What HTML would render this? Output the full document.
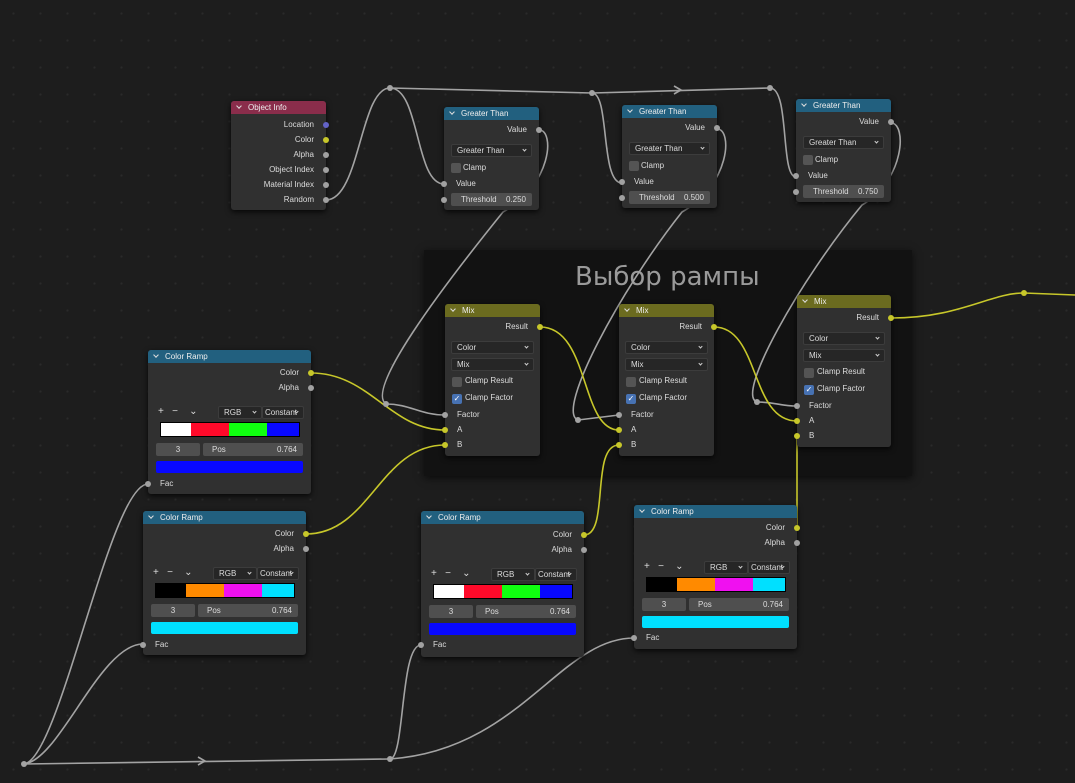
<!DOCTYPE html>
<html><head><meta charset="utf-8"><style>
body{margin:0;width:1075px;height:783px;background:#1d1d1d;overflow:hidden;position:relative;font-family:"Liberation Sans",sans-serif;}
.bg{position:absolute;left:0;top:0;width:1075px;height:783px;background-image:radial-gradient(circle,#2a2a2a 1px,transparent 1.2px);background-size:27px 27px;}
.frame{position:absolute;left:424px;top:250px;width:488px;height:226px;background:#121212;box-shadow:0 2px 8px #000a;}
.ftitle{position:absolute;left:575px;top:262px;font-size:26px;color:#9a9a9a;font-family:"DejaVu Sans",sans-serif;}
.n{position:absolute;background:#303030;border-radius:3px;box-shadow:0 2px 6px #000c;font-size:8px;color:#dcdcdc;}
.h{height:13px;line-height:13px;border-radius:3px 3px 0 0;padding-left:17px;position:relative;color:#eee;}
.h:before{content:"";position:absolute;left:6px;top:3px;width:3px;height:3px;border-right:1px solid #ddd;border-bottom:1px solid #ddd;transform:rotate(45deg);}
.r{position:absolute;line-height:10px;white-space:nowrap;}
.ro{right:12px;text-align:right;}
.ri{left:12px;}
.s{position:absolute;width:6px;height:6px;border-radius:50%;background:#a1a1a1;}
.so{right:-3px;}.si{left:-3px;}
.y{background:#c7c72a;}.p{background:#6363c7;}
.dd{position:absolute;background:#262626;border:1px solid #3c3c3c;border-radius:2px;height:13px;line-height:12px;padding-left:5px;box-sizing:border-box;font-size:8px;}
.dd:after{content:"";position:absolute;right:5px;top:3px;width:2px;height:2px;border-right:1px solid #ccc;border-bottom:1px solid #ccc;transform:rotate(45deg);}
.fld{position:absolute;background:#4f4f4f;border-radius:2px;height:13px;line-height:13px;font-size:8px;box-sizing:border-box;}
.cb{position:absolute;width:10px;height:10px;background:#545454;border-radius:2px;}
.cbk{background:#4772b3;color:#fff;font-size:8px;line-height:10px;text-align:center;}
.ramp{position:absolute;height:15px;border:1px solid #000;display:flex;box-sizing:border-box;}
.ramp div{height:100%;}
svg{position:absolute;left:0;top:0;}
</style></head><body>
<div class="bg"></div>
<div class="frame"></div>
<div class="ftitle">Выбор рампы</div>

<svg width="1075" height="783" fill="none" stroke-width="1.6">
<g stroke="#a3a3a3">
<path d="M326,200 C360,200 360,88 390,88"/>
<path d="M390,88 C420,88 415,184 444,184"/>
<path d="M390,88 L592,93"/>
<path d="M592,93 C610,93 600,183 622,183"/>
<path d="M592,93 L770,88"/>
<path d="M770,88 C790,88 780,177 796,177"/>
<path d="M539,130 C555,130 552,185 503,212 C440,290 365,390 386,404"/>
<path d="M386,404 C410,404 420,415 445,415"/>
<path d="M717,129 C733,129 730,185 682,212 C620,290 555,412 578,420"/>
<path d="M578,420 L619,415"/>
<path d="M891,123 C907,123 905,180 862,205 C800,280 735,395 757,402"/>
<path d="M757,402 C775,402 780,406 797,406"/>
<path d="M24,764 C60,760 110,484 148,484"/>
<path d="M24,764 C60,760 100,644 143,644"/>
<path d="M24,764 L390,759"/>
<path d="M198,757 L205,761 L198,765"/>
<path d="M390,759 C405,759 400,645 421,645"/>
<path d="M390,759 C520,750 560,638 634,638"/>
<path d="M674,86 L681,90 L674,94"/>
</g>
<g stroke="#c7c72a">
<path d="M311,373 C370,373 390,430 445,430"/>
<path d="M306,534 C370,534 380,445 445,445"/>
<path d="M540,327 C590,327 580,430 619,430"/>
<path d="M584,535 C610,535 590,445 619,445"/>
<path d="M714,327 C760,327 750,421 797,421"/>
<path d="M797,436 L797,528"/>
<path d="M891,318 C960,318 990,293 1024,293 L1075,295"/>
</g>
<g fill="#a3a3a3">
<circle cx="390" cy="88" r="3"/><circle cx="592" cy="93" r="3"/><circle cx="770" cy="88" r="3"/>
<circle cx="386" cy="404" r="3"/><circle cx="578" cy="420" r="3"/><circle cx="757" cy="402" r="3"/>
<circle cx="24" cy="764" r="3"/><circle cx="390" cy="759" r="3"/>
</g>
<circle cx="1024" cy="293" r="3" fill="#c7c72a"/>
</svg>

<!-- Object Info -->
<div class="n" style="left:231px;top:101px;width:95px;height:109px;">
<div class="h" style="background:#8a2d4b;">Object Info</div>
<div class="r ro" style="top:19px">Location</div><div class="s so p" style="top:21px"></div>
<div class="r ro" style="top:34px">Color</div><div class="s so y" style="top:36px"></div>
<div class="r ro" style="top:49px">Alpha</div><div class="s so" style="top:51px"></div>
<div class="r ro" style="top:64px">Object Index</div><div class="s so" style="top:66px"></div>
<div class="r ro" style="top:79px">Material Index</div><div class="s so" style="top:81px"></div>
<div class="r ro" style="top:94px">Random</div><div class="s so" style="top:96px"></div>
</div>

<!-- Greater Than x3 -->
<div class="n" style="left:444px;top:107px;width:95px;height:103px;">
<div class="h" style="background:#22607f;">Greater Than</div>
<div class="r ro" style="top:18px">Value</div><div class="s so" style="top:20px"></div>
<div class="dd" style="left:7px;top:37px;width:81px;">Greater Than</div>
<div class="cb" style="left:7px;top:56px"></div><div class="r" style="left:19px;top:56px">Clamp</div>
<div class="r ri" style="top:72px">Value</div><div class="s si" style="top:74px"></div>
<div class="fld" style="left:7px;top:86px;width:81px;padding:0 6px 0 10px;">Threshold<span style="float:right">0.250</span></div><div class="s si" style="top:90px"></div>
</div>
<div class="n" style="left:622px;top:105px;width:95px;height:103px;">
<div class="h" style="background:#22607f;">Greater Than</div>
<div class="r ro" style="top:18px">Value</div><div class="s so" style="top:20px"></div>
<div class="dd" style="left:7px;top:37px;width:81px;">Greater Than</div>
<div class="cb" style="left:7px;top:56px"></div><div class="r" style="left:19px;top:56px">Clamp</div>
<div class="r ri" style="top:72px">Value</div><div class="s si" style="top:74px"></div>
<div class="fld" style="left:7px;top:86px;width:81px;padding:0 6px 0 10px;">Threshold<span style="float:right">0.500</span></div><div class="s si" style="top:90px"></div>
</div>
<div class="n" style="left:796px;top:99px;width:95px;height:103px;">
<div class="h" style="background:#22607f;">Greater Than</div>
<div class="r ro" style="top:18px">Value</div><div class="s so" style="top:20px"></div>
<div class="dd" style="left:7px;top:37px;width:81px;">Greater Than</div>
<div class="cb" style="left:7px;top:56px"></div><div class="r" style="left:19px;top:56px">Clamp</div>
<div class="r ri" style="top:72px">Value</div><div class="s si" style="top:74px"></div>
<div class="fld" style="left:7px;top:86px;width:81px;padding:0 6px 0 10px;">Threshold<span style="float:right">0.750</span></div><div class="s si" style="top:90px"></div>
</div>

<!-- Mix x3 -->
<div class="n" style="left:445px;top:304px;width:95px;height:152px;">
<div class="h" style="background:#6b6b1f;">Mix</div>
<div class="r ro" style="top:18px">Result</div><div class="s so y" style="top:20px"></div>
<div class="dd" style="left:6px;top:37px;width:83px;">Color</div>
<div class="dd" style="left:6px;top:54px;width:83px;">Mix</div>
<div class="cb" style="left:7px;top:73px"></div><div class="r" style="left:20px;top:72px">Clamp Result</div>
<div class="cb cbk" style="left:7px;top:90px">✓</div><div class="r" style="left:20px;top:89px">Clamp Factor</div>
<div class="r ri" style="top:106px">Factor</div><div class="s si" style="top:108px"></div>
<div class="r ri" style="top:121px">A</div><div class="s si y" style="top:123px"></div>
<div class="r ri" style="top:136px">B</div><div class="s si y" style="top:138px"></div>
</div>
<div class="n" style="left:619px;top:304px;width:95px;height:152px;">
<div class="h" style="background:#6b6b1f;">Mix</div>
<div class="r ro" style="top:18px">Result</div><div class="s so y" style="top:20px"></div>
<div class="dd" style="left:6px;top:37px;width:83px;">Color</div>
<div class="dd" style="left:6px;top:54px;width:83px;">Mix</div>
<div class="cb" style="left:7px;top:73px"></div><div class="r" style="left:20px;top:72px">Clamp Result</div>
<div class="cb cbk" style="left:7px;top:90px">✓</div><div class="r" style="left:20px;top:89px">Clamp Factor</div>
<div class="r ri" style="top:106px">Factor</div><div class="s si" style="top:108px"></div>
<div class="r ri" style="top:121px">A</div><div class="s si y" style="top:123px"></div>
<div class="r ri" style="top:136px">B</div><div class="s si y" style="top:138px"></div>
</div>
<div class="n" style="left:797px;top:295px;width:94px;height:152px;">
<div class="h" style="background:#6b6b1f;">Mix</div>
<div class="r ro" style="top:18px">Result</div><div class="s so y" style="top:20px"></div>
<div class="dd" style="left:6px;top:37px;width:82px;">Color</div>
<div class="dd" style="left:6px;top:54px;width:82px;">Mix</div>
<div class="cb" style="left:7px;top:73px"></div><div class="r" style="left:20px;top:72px">Clamp Result</div>
<div class="cb cbk" style="left:7px;top:90px">✓</div><div class="r" style="left:20px;top:89px">Clamp Factor</div>
<div class="r ri" style="top:106px">Factor</div><div class="s si" style="top:108px"></div>
<div class="r ri" style="top:121px">A</div><div class="s si y" style="top:123px"></div>
<div class="r ri" style="top:136px">B</div><div class="s si y" style="top:138px"></div>
</div>

<!-- Color Ramps -->
<div class="n" style="left:148px;top:350px;width:163px;height:144px;">
<div class="h" style="background:#22607f;">Color Ramp</div>
<div class="r ro" style="top:18px">Color</div><div class="s so y" style="top:20px"></div>
<div class="r ro" style="top:33px">Alpha</div><div class="s so" style="top:35px"></div>
<div class="r" style="left:10px;top:57px;font-size:10px">+&nbsp;&nbsp;&nbsp;−&nbsp;&nbsp;&nbsp;&nbsp;⌄</div>
<div class="dd" style="left:70px;top:56px;width:44px;">RGB</div><div class="dd" style="left:114px;top:56px;width:42px;padding-left:2px">Constant</div>
<div class="ramp" style="left:12px;top:72px;width:140px;"><div style="width:30px;background:#fff"></div><div style="width:38px;background:#ff0a2a"></div><div style="width:38px;background:#10ff10"></div><div style="flex:1;background:#0808ff"></div></div>
<div class="fld" style="left:8px;top:93px;width:44px;text-align:center">3</div>
<div class="fld" style="left:55px;top:93px;width:100px;padding:0 6px 0 9px">Pos<span style="float:right">0.764</span></div>
<div style="position:absolute;left:8px;top:111px;width:147px;height:12px;background:#0808ff;border-radius:2px"></div>
<div class="r ri" style="top:129px">Fac</div><div class="s si" style="top:131px"></div>
</div>
<div class="n" style="left:143px;top:511px;width:163px;height:144px;">
<div class="h" style="background:#22607f;">Color Ramp</div>
<div class="r ro" style="top:18px">Color</div><div class="s so y" style="top:20px"></div>
<div class="r ro" style="top:33px">Alpha</div><div class="s so" style="top:35px"></div>
<div class="r" style="left:10px;top:57px;font-size:10px">+&nbsp;&nbsp;&nbsp;−&nbsp;&nbsp;&nbsp;&nbsp;⌄</div>
<div class="dd" style="left:70px;top:56px;width:44px;">RGB</div><div class="dd" style="left:114px;top:56px;width:42px;padding-left:2px">Constant</div>
<div class="ramp" style="left:12px;top:72px;width:140px;"><div style="width:30px;background:#000"></div><div style="width:38px;background:#ff8a00"></div><div style="width:38px;background:#f010f0"></div><div style="flex:1;background:#00e0ff"></div></div>
<div class="fld" style="left:8px;top:93px;width:44px;text-align:center">3</div>
<div class="fld" style="left:55px;top:93px;width:100px;padding:0 6px 0 9px">Pos<span style="float:right">0.764</span></div>
<div style="position:absolute;left:8px;top:111px;width:147px;height:12px;background:#00e0ff;border-radius:2px"></div>
<div class="r ri" style="top:129px">Fac</div><div class="s si" style="top:131px"></div>
</div>
<div class="n" style="left:421px;top:511px;width:163px;height:146px;">
<div class="h" style="background:#22607f;">Color Ramp</div>
<div class="r ro" style="top:19px">Color</div><div class="s so y" style="top:21px"></div>
<div class="r ro" style="top:34px">Alpha</div><div class="s so" style="top:36px"></div>
<div class="r" style="left:10px;top:58px;font-size:10px">+&nbsp;&nbsp;&nbsp;−&nbsp;&nbsp;&nbsp;&nbsp;⌄</div>
<div class="dd" style="left:70px;top:57px;width:44px;">RGB</div><div class="dd" style="left:114px;top:57px;width:42px;padding-left:2px">Constant</div>
<div class="ramp" style="left:12px;top:73px;width:140px;"><div style="width:30px;background:#fff"></div><div style="width:38px;background:#ff0a2a"></div><div style="width:38px;background:#10ff10"></div><div style="flex:1;background:#0808ff"></div></div>
<div class="fld" style="left:8px;top:94px;width:44px;text-align:center">3</div>
<div class="fld" style="left:55px;top:94px;width:100px;padding:0 6px 0 9px">Pos<span style="float:right">0.764</span></div>
<div style="position:absolute;left:8px;top:112px;width:147px;height:12px;background:#0808ff;border-radius:2px"></div>
<div class="r ri" style="top:129px">Fac</div><div class="s si" style="top:131px"></div>
</div>
<div class="n" style="left:634px;top:505px;width:163px;height:144px;">
<div class="h" style="background:#22607f;">Color Ramp</div>
<div class="r ro" style="top:18px">Color</div><div class="s so y" style="top:20px"></div>
<div class="r ro" style="top:33px">Alpha</div><div class="s so" style="top:35px"></div>
<div class="r" style="left:10px;top:57px;font-size:10px">+&nbsp;&nbsp;&nbsp;−&nbsp;&nbsp;&nbsp;&nbsp;⌄</div>
<div class="dd" style="left:70px;top:56px;width:44px;">RGB</div><div class="dd" style="left:114px;top:56px;width:42px;padding-left:2px">Constant</div>
<div class="ramp" style="left:12px;top:72px;width:140px;"><div style="width:30px;background:#000"></div><div style="width:38px;background:#ff8a00"></div><div style="width:38px;background:#f010f0"></div><div style="flex:1;background:#00e0ff"></div></div>
<div class="fld" style="left:8px;top:93px;width:44px;text-align:center">3</div>
<div class="fld" style="left:55px;top:93px;width:100px;padding:0 6px 0 9px">Pos<span style="float:right">0.764</span></div>
<div style="position:absolute;left:8px;top:111px;width:147px;height:12px;background:#00e0ff;border-radius:2px"></div>
<div class="r ri" style="top:128px">Fac</div><div class="s si" style="top:130px"></div>
</div>
</body></html>
